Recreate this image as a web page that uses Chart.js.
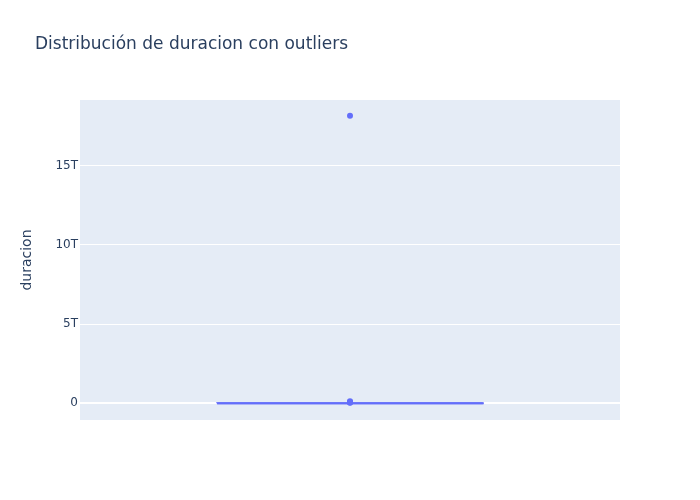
<!DOCTYPE html>
<html>
<head>
<meta charset="utf-8">
<script src="https://cdn.jsdelivr.net/npm/chart.js@4.4.1/dist/chart.umd.min.js"></script>
<style>
html,body{margin:0;padding:0;background:#fff;}
#wrap{width:700px;height:500px;}
</style>
</head>
<body>
<div id="wrap"><canvas id="c" width="700" height="500"></canvas></div>
<script>
// Values in trillions (T)
const boxStats = { lowerFence: 0.0, q1: 0.001, median: 0.003, q3: 0.008, upperFence: 0.02 };
const outliers = [18.15, 0.13, 0.09, 0.06, 0.04];
const yTicks = [0, 5, 10, 15];
const titleText = "Distribución de duracion con outliers";
const yTitle = "duracion";

const HW = 0.246; // half box width in x-units
const boxPoly = [
  {x:-HW, y:boxStats.q1}, {x:HW, y:boxStats.q1}, {x:HW, y:boxStats.q3},
  {x:-HW, y:boxStats.q3}, {x:-HW, y:boxStats.q1}
];
const medianLine = [{x:-HW, y:boxStats.median}, {x:HW, y:boxStats.median}];
const whiskers = [
  {x:0, y:boxStats.q1}, {x:0, y:boxStats.lowerFence}, {x:0, y:null},
  {x:0, y:boxStats.q3}, {x:0, y:boxStats.upperFence}
];
const outlierPts = outliers.map(v => ({x:0, y:v}));

const FONT = '"DejaVu Sans", Verdana, sans-serif';
const COLOR = '#636efa';

const bgPlugin = {
  id: 'bg',
  beforeDraw(chart) {
    const {ctx, chartArea:a} = chart;
    ctx.save();
    ctx.fillStyle = '#E5ECF6';
    ctx.fillRect(a.left, a.top, a.right - a.left, a.bottom - a.top);
    ctx.restore();
  },
  afterDraw(chart) {
    const {ctx, chartArea:a} = chart;
    ctx.save();
    ctx.fillStyle = '#2a3f5f';
    ctx.font = '17px ' + FONT;
    ctx.textBaseline = 'middle';
    ctx.textAlign = 'left';
    ctx.fillText(titleText, 35, 45);
    ctx.translate(27, (a.top + a.bottom) / 2);
    ctx.rotate(-Math.PI / 2);
    ctx.font = '14px ' + FONT;
    ctx.textAlign = 'center';
    ctx.fillText(yTitle, 0, 0);
    ctx.restore();
  }
};

new Chart(document.getElementById('c'), {
  type: 'scatter',
  data: {
    datasets: [
      { type:'line', data: boxPoly, borderColor: COLOR, borderWidth: 2,
        backgroundColor: 'rgba(99,110,250,0.5)', fill: true, pointRadius: 0, tension: 0, order: 2 },
      { type:'line', data: medianLine, borderColor: COLOR, borderWidth: 2, pointRadius: 0, fill:false, order: 2 },
      { type:'line', data: whiskers, borderColor: COLOR, borderWidth: 2, pointRadius: 0, fill:false, spanGaps:false, order: 2 },
      { type:'scatter', data: outlierPts, backgroundColor: COLOR, borderWidth: 0, pointRadius: 3, order: 1 }
    ]
  },
  options: {
    responsive: false,
    animation: false,
    layout: { padding: { left: 0, right: 80, top: 100, bottom: 80 } },
    plugins: { legend: { display: false }, tooltip: { enabled: false }, title: { display: false } },
    scales: {
      x: { type: 'linear', min: -0.5, max: 0.5, display: false },
      y: {
        type: 'linear', min: -1.05, max: 19.15,
        afterFit(scale) { scale.width = 80; },
        afterBuildTicks(scale) { scale.ticks = yTicks.map(v => ({ value: v })); },
        border: { display: false },
        grid: {
          drawTicks: false,
          color: '#ffffff',
          lineWidth: ctx => (ctx.tick && ctx.tick.value === 0) ? 2 : 1
        },
        ticks: {
          padding: 2,
          color: '#2a3f5f',
          font: { family: FONT, size: 12 },
          callback: v => v === 0 ? '0' : v + 'T'
        }
      }
    }
  },
  plugins: [bgPlugin]
});
</script>
</body>
</html>
